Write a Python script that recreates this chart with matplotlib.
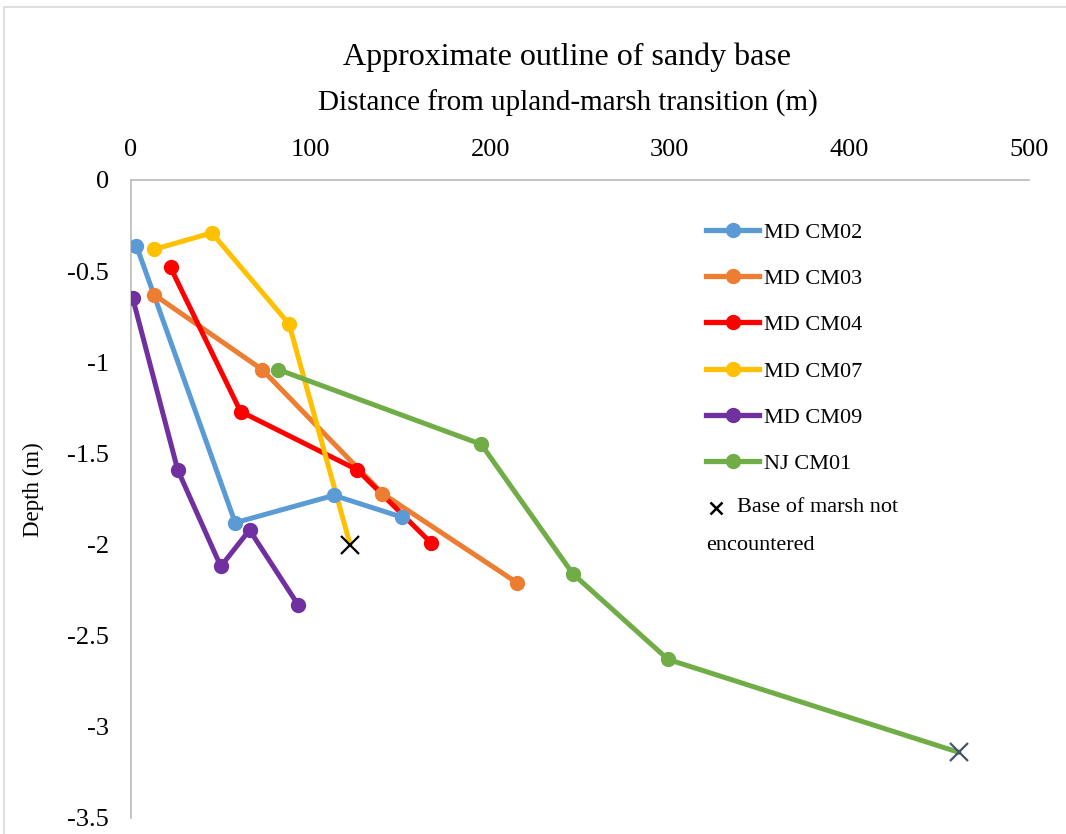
import numpy as np
import matplotlib
matplotlib.use("Agg")
import matplotlib.pyplot as plt
import matplotlib.patches as patches
from matplotlib.lines import Line2D

plt.rcParams['font.family'] = ['Liberation Serif', 'DejaVu Serif']

# distance (m) and depth (m) per core transect
series_names = ["MD CM02", "MD CM03", "MD CM04", "MD CM07", "MD CM09", "NJ CM01"]
series_colors = ["#5B9BD5", "#ED7D31", "#FF0000", "#FFC000", "#7030A0", "#70AD47"]

md_cm02_x = [3, 58, 113, 151]
md_cm02_y = [-0.36, -1.88, -1.73, -1.85]
md_cm03_x = [13, 73, 140, 215]
md_cm03_y = [-0.63, -1.04, -1.72, -2.21]
md_cm04_x = [22, 61, 126, 167]
md_cm04_y = [-0.48, -1.27, -1.59, -1.99]
md_cm07_x = [13, 45, 88, 122]
md_cm07_y = [-0.38, -0.29, -0.79, -2.0]
md_cm09_x = [1, 26, 50, 66, 93]
md_cm09_y = [-0.65, -1.59, -2.12, -1.92, -2.33]
nj_cm01_x = [82, 195, 246, 299, 461]
nj_cm01_y = [-1.04, -1.45, -2.16, -2.63, -3.14]

# which points have no marsh base (plotted as x, not dot)
open_ended = {"MD CM07": 3, "NJ CM01": 4}
open_colors = {"MD CM07": "black", "NJ CM01": "#44546A"}

xs = [md_cm02_x, md_cm03_x, md_cm04_x, md_cm07_x, md_cm09_x, nj_cm01_x]
ys = [md_cm02_y, md_cm03_y, md_cm04_y, md_cm07_y, md_cm09_y, nj_cm01_y]

x_ticks = [0, 100, 200, 300, 400, 500]
y_ticks = [0, -0.5, -1, -1.5, -2, -2.5, -3, -3.5]
y_tick_labels = ["0", "-0.5", "-1", "-1.5", "-2", "-2.5", "-3", "-3.5"]

W, H = 1066, 834
fig = plt.figure(figsize=(W / 100, H / 100), dpi=100)
ax = fig.add_axes([131 / W, 1 - 818 / H, (1029 - 131) / W, (818 - 180) / H])

for name, x, y, c in zip(series_names, xs, ys, series_colors):
    ax.plot(x, y, color=c, lw=3.6, solid_capstyle="round", zorder=2)
    idx = [i for i in range(len(x)) if open_ended.get(name) != i]
    ax.plot([x[i] for i in idx], [y[i] for i in idx], "o", color=c, ms=10, zorder=3)
    if name in open_ended:
        i = open_ended[name]
        ax.plot(x[i], y[i], "x", color=open_colors[name], ms=13, mew=1.6, zorder=4)

ax.set_xlim(0, 500)
ax.set_ylim(-3.5, 0)
ax.xaxis.tick_top()
ax.set_xticks(x_ticks)
ax.set_yticks(y_ticks)
ax.set_yticklabels(y_tick_labels)
ax.tick_params(axis="both", length=0, labelsize=19)
ax.tick_params(axis="x", pad=14)
ax.tick_params(axis="y", pad=16)
for s in ["right", "bottom"]:
    ax.spines[s].set_visible(False)
for s in ["top", "left"]:
    ax.spines[s].set_color("#BFBFBF")
    ax.spines[s].set_linewidth(1.3)

fig.text(568 / W, 1 - 103 / H, "Distance from upland-marsh transition (m)",
         ha="center", va="center", fontsize=21)
fig.text(33 / W, 1 - 490 / H, "Depth (m)", rotation=90,
         ha="center", va="center", fontsize=16.5)
fig.text(567 / W, 1 - 57 / H, "Approximate outline of sandy base",
         ha="center", va="center", fontsize=23)

handles = [Line2D([0], [0], color=c, lw=3.8, marker="o", ms=10) for c in series_colors]
leg = ax.legend(handles, series_names, loc="upper left",
                bbox_to_anchor=((686 - 131) / (1029 - 131), 1 - 22 / 638),
                frameon=False, fontsize=16, handlelength=2.4, handletextpad=0.2,
                labelspacing=1.16)

# last legend entry wraps under its marker, so drawn by hand
fig.lines.append(Line2D([716 / W], [1 - 508 / H], transform=fig.transFigure,
                        marker="x", color="black", ms=9, mew=1.8, lw=0))
fig.text(737 / W, 1 - 508 / H, "Base of marsh not", ha="left", va="center", fontsize=16)
fig.text(706 / W, 1 - 545 / H, "encountered", ha="left", va="center", fontsize=16)

# chart area border
fig.patches.append(patches.Rectangle((4 / W, -0.1), 1.2, 1 - 7 / H + 0.1, transform=fig.transFigure,
                                     fill=False, edgecolor="#D9D9D9", lw=1.2))

fig.savefig("out.png", dpi=100)
